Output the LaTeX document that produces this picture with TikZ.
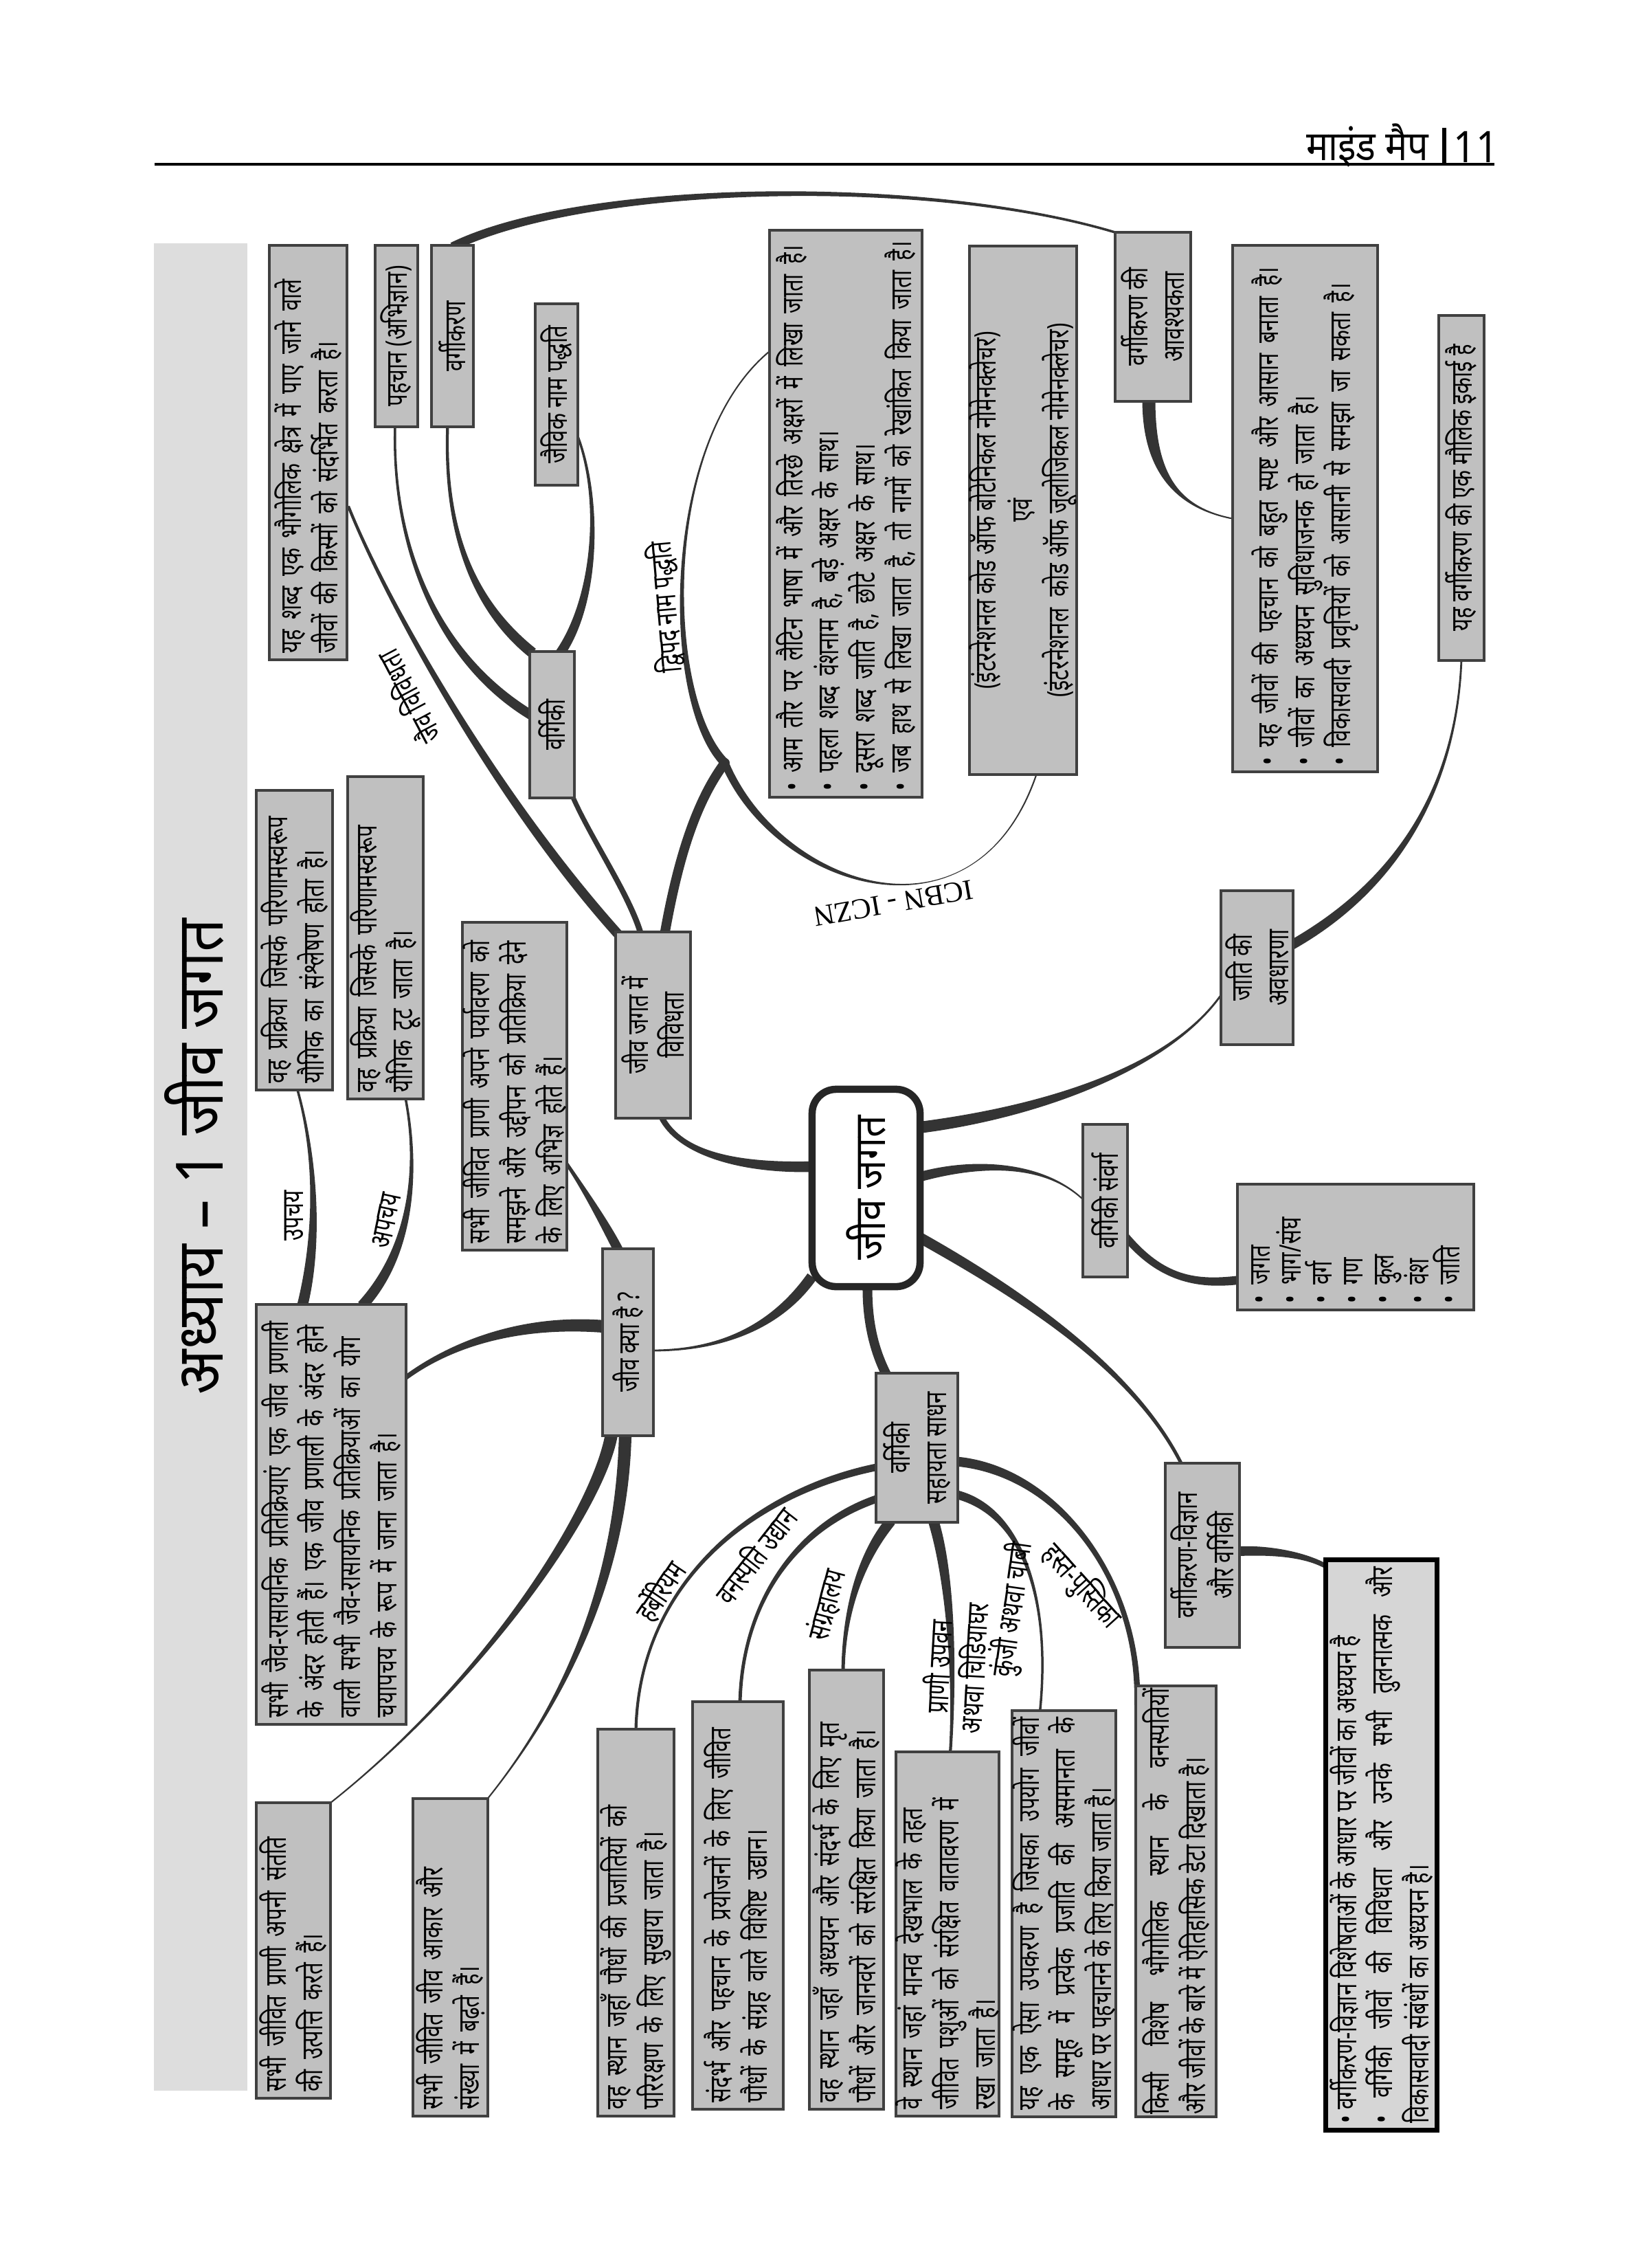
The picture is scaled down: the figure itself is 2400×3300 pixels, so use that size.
\documentclass[tikz,border=0pt]{standalone}
\usepackage{fontspec}
\setmainfont{Noto Sans}[Script=Devanagari, FakeStretch=0.72]
\newfontfamily\headfont{Noto Sans}[Script=Devanagari, FakeStretch=0.9]
\newfontfamily\latinserif{Liberation Serif}
\usetikzlibrary{calc, backgrounds}
\definecolor{boxGray}{RGB}{192,192,192}
\definecolor{edgeGray}{RGB}{64,64,64}
\definecolor{limbGray}{RGB}{52,52,52}
\definecolor{bandGray}{RGB}{221,221,221}
\definecolor{noteGray}{RGB}{214,214,214}

% tapered branch: start, control 1, control 2, end, half width at start, half width at end
\newcommand{\taper}[6]{%
  \coordinate (t0) at (#1); \coordinate (t1) at (#2);
  \coordinate (t2) at (#3); \coordinate (t3) at (#4);
  \fill[limbGray] ($(t0)!#5!90:(t1)$) .. controls ($(t1)!#5!-90:(t0)$) and ($(t2)!#6!90:(t3)$) .. ($(t3)!#6!-90:(t2)$)
    -- ($(t3)!#6!90:(t2)$) .. controls ($(t2)!#6!-90:(t3)$) and ($(t1)!#5!90:(t0)$) .. ($(t0)!#5!-90:(t1)$) -- cycle;}

\begin{document}
\begin{tikzpicture}[x=0.01cm, y=-0.01cm,
    box/.style={rotate=90, draw=edgeGray, line width=1.1pt, fill=boxGray, inner xsep=0.1cm, inner ysep=0pt, font=\fontsize{12.3}{15}\selectfont},
    leaf/.style={box, align=left},
    fillbox/.style={box, align=justify},
    hub/.style={box, align=center},
    tag/.style={inner sep=0pt, font=\bfseries\fontsize{12.5}{14.5}\selectfont}]
    \useasboundingbox (0,0) rectangle (2400,3300);

    % Running head
    \node[anchor=east, inner sep=0pt, font=\headfont\fontsize{17}{20}\selectfont] (runhead) at (2080,212) {माइंड मैप};
    \node[inner sep=0pt, font=\headfont\bfseries\fontsize{18}{20}\selectfont] (pageno) at (2148,214) {11};
    \draw[line width=1.6pt] (2102,186) -- (2102,239);
    \draw[line width=1.1pt] (225,239) -- (2175,239);

    % Chapter strip
    \node[rotate=90, inner sep=0pt, font=\headfont\bfseries\fontsize{27}{30}\selectfont] (chapter) at (283,1683) {अध्याय – 1 जीव जगत};

    % Centre
    \node[rotate=90, draw=black!85, line width=3pt, fill=white, rounded corners=0.35cm, minimum width=2.87cm, minimum height=1.57cm, font=\headfont\fontsize{18}{20}\selectfont] (centre) at (1260.5,1728.5) {जीव जगत};

    % Diversity side
    \node[hub, minimum width=2.71cm, minimum height=1.09cm] (jaivvividh) at (950.5,1491.5) {जीव जगत में\\विविधता};
    \node[leaf, text width=5.83cm, minimum height=1.13cm] (biodef) at (448.5,658.5) {यह शब्द एक भौगोलिक क्षेत्र में पाए जाने वाले\\जीवों की किस्मों को संदर्भित करता है।};
    \node[hub, minimum width=2.64cm, minimum height=0.62cm] (pehchan) at (577,489) {पहचान (अभिज्ञान)};
    \node[hub, minimum width=2.64cm, minimum height=0.61cm] (vargikaran) at (658.5,489) {वर्गीकरण};
    \node[hub, minimum width=2.64cm, minimum height=0.62cm] (naampaddhati) at (810,574) {जैविक नाम पद्धति};
    \node[hub, minimum width=2.13cm, minimum height=0.65cm] (vargiki) at (803.5,1054.5) {वर्गिकी};
    \node[leaf, text width=8.05cm, minimum height=2.22cm] (binomial) at (1231,747.5) {• आम तौर पर लैटिन भाषा में और तिरछे अक्षरों में लिखा जाता है।\\• पहला शब्द वंशनाम है, बड़े अक्षर के साथ।\\• दूसरा शब्द जाति है, छोटे अक्षर के साथ।\\• जब हाथ से लिखा जाता है, तो नामों को रेखांकित किया जाता है।};
    \node[hub, minimum width=7.69cm, minimum height=1.54cm] (codes) at (1489,742.5) {(इंटरनेशनल कोड ऑफ बोटेनिकल नोमेनक्लेचर)\\एवं\\(इंटरनेशनल\ \ कोड ऑफ जूलोजिकल नोमेनक्लेचर)};
    \node[hub, minimum width=2.46cm, minimum height=1.10cm] (needcls) at (1678,461) {वर्गीकरण की\\आवश्यकता};
    \node[leaf, text width=7.46cm, minimum height=2.11cm] (needlist) at (1899.5,740) {• यह जीवों की पहचान को बहुत स्पष्ट और आसान बनाता है।\\• जीवों का अध्ययन सुविधाजनक हो जाता है।\\• विकासवादी प्रवृत्तियों को आसानी से समझा जा सकता है।};
    \node[hub, minimum width=5.02cm, minimum height=0.66cm] (basicunit) at (2127,710) {यह वर्गीकरण की एक मौलिक इकाई है};
    \node[hub, minimum width=2.24cm, minimum height=1.05cm] (speciesidea) at (1829.5,1408) {जाति की\\अवधारणा};
    \node[hub, minimum width=2.22cm, minimum height=0.65cm] (category) at (1608.5,1747) {वर्गिकी संवर्ग};
    \node[leaf, text width=1.63cm, minimum height=3.44cm, font=\fontsize{12.3}{12.8}\selectfont] (ranks) at (1973,1814.5) {•~जगत\\•~भाग/संघ\\•~वर्ग\\•~गण\\•~कुल\\•~वंश\\•~जाति};

    % What is living
    \node[leaf, text width=4.16cm, minimum height=1.11cm] (upchay) at (428.5,1368) {वह प्रक्रिया जिसके परिणामस्वरूप\\यौगिक का संश्लेषण होता है।};
    \node[leaf, text width=4.49cm, minimum height=1.10cm] (apchay) at (561,1364.5) {वह प्रक्रिया जिसके परिणामस्वरूप\\यौगिक टूट जाता है।};
    \node[leaf, text width=4.57cm, minimum height=1.52cm] (sense) at (749,1580.5) {सभी जीवित प्राणी अपने पर्यावरण को\\समझने और उद्दीपन को प्रतिक्रिया देने\\के लिए अभिज्ञ होते हैं।};
    \node[hub, minimum width=2.72cm, minimum height=0.74cm] (whatlife) at (914,1953) {जीव क्या है ?};
    \node[leaf, text width=5.91cm, minimum height=2.18cm] (metab) at (482,2203.5) {सभी जैव-रासायनिक प्रतिक्रियाएं एक जीव प्रणाली\\के अंदर होती हैं। एक जीव प्रणाली के अंदर होने\\वाली सभी जैव-रासायनिक प्रतिक्रियाओं का योग\\चयापचय के रूप में जाना जाता है।};
    \node[leaf, text width=4.10cm, minimum height=1.08cm] (repro) at (427,2838) {सभी जीवित प्राणी अपनी संतति\\की उत्पत्ति करते हैं।};
    \node[leaf, text width=4.42cm, minimum height=1.09cm] (growth) at (655.5,2848) {सभी जीवित जीव आकार और\\संख्या में बढ़ते हैं।};

    % Taxonomical aids
    \node[hub, minimum width=2.17cm, minimum height=1.19cm] (aids) at (1334.5,2106.5) {वर्गिकी\\सहायता साधन};
    \node[leaf, text width=5.43cm, minimum height=1.11cm] (herb) at (925.5,2797.5) {वह स्थान जहाँ पौधों की प्रजातियों को\\परिरक्षण के लिए सुखाया जाता है।};
    \node[leaf, text width=5.73cm, minimum height=1.32cm] (garden) at (1074,2772.5) {संदर्भ और पहचान के प्रयोजनों के लिए जीवित\\पौधों के संग्रह वाले विशिष्ट उद्यान।};
    \node[leaf, text width=6.19cm, minimum height=1.08cm] (museum) at (1232,2749.5) {वह स्थान जहाँ अध्ययन और संदर्भ के लिए मृत\\पौधों और जानवरों को संरक्षित किया जाता है।};
    \node[leaf, text width=5.10cm, minimum height=1.38cm] (zoo) at (1379,2814) {वे स्थान जहां मानव देखभाल के तहत\\जीवित पशुओं को संरक्षित वातावरण में\\रखा जाता है।};
    \node[fillbox, text width=5.71cm, minimum height=1.47cm] (keybox) at (1548.5,2784.5) {यह एक ऐसा उपकरण है जिसका उपयोग जीवों\linebreak के समूह में प्रत्येक प्रजाति की असमानता के\linebreak आधार पर पहचानने के लिए किया जाता है।};
    \node[fillbox, inner xsep=0.035cm, text width=6.2cm, minimum height=1.17cm] (flora) at (1711.5,2766.5) {किसी विशेष भौगोलिक स्थान के वनस्पतियों\linebreak और जीवों के बारे में ऐतिहासिक डेटा दिखाता\ है।};

    % Systematics
    \node[hub, minimum width=2.68cm, minimum height=1.08cm] (systematics) at (1750,2263) {वर्गीकरण-विज्ञान\\और वर्गिकी};
    \node[fillbox, fill=noteGray, draw=black, line width=2pt, text width=8.09cm, minimum height=1.61cm] (sysnote) at (2010.5,2684.5) {• वर्गीकरण-विज्ञान विशेषताओं के आधार पर जीवों का अध्ययन है\\• वर्गिकी जीवों की विविधता और उनके सभी तुलनात्मक और\linebreak विकासवादी संबंधों का अध्ययन है।};

    % Branch labels
    \node[tag, rotate=118] (tagbio) at (593,1015) {जैव विविधता};
    \node[tag, rotate=95] (tagdvipad) at (968,883) {द्विपद नाम पद्धति};
    \node[rotate=190, inner sep=0pt, font=\latinserif\fontsize{12}{14}\selectfont] (tagcode) at (1300,1314) {ICBN - ICZN};
    \node[tag, rotate=90] (tagupchay) at (428,1769) {उपचय};
    \node[tag, rotate=78] (tagapchay) at (562,1776) {अपचय};
    \node[tag, rotate=56] (tagherb) at (961,2315) {हर्बेरियम};
    \node[tag, rotate=52] (taggarden) at (1098,2262) {वनस्पति उद्यान};
    \node[tag, rotate=75] (tagmuseum) at (1203,2335) {संग्रहालय};
    \node[tag, rotate=87, align=center] (tagzoo) at (1393,2426) {प्राणी उपवन\\अथवा चिड़ियाघर};
    \node[tag, rotate=82] (tagkey) at (1474,2342) {कुंजी अथवा चाबी};
    \node[tag, rotate=-48] (tagflora) at (1574,2308) {हस्त-पुस्तिका};

    \begin{scope}[on background layer]
        \fill[bandGray] (224,354) rectangle (360,3042);
        \coordinate (dvipadjn) at (1055,1110);
        % diversity branches
        \taper{$(biodef.south)+(0,78)$}{560,870}{720,1160}{$(jaivvividh.north east)+(8,8)$}{0.6pt}{2.0pt}
        \taper{$(vargiki.south west)+(-5,-5)$}{860,1220}{915,1300}{$(jaivvividh.east)+(-18,4)$}{1.0pt}{1.2pt}
        \taper{$(jaivvividh.east)+(17,4)$}{985,1260}{1010,1170}{dvipadjn}{2.0pt}{2.0pt}
        \taper{dvipadjn}{965,1020}{960,640}{$(binomial.north)+(4,-238)$}{1.8pt}{0.3pt}
        \taper{dvipadjn}{1130,1290}{1420,1390}{$(codes.west)+(20,-4)$}{1.6pt}{0.3pt}
        \fill[limbGray] (dvipadjn) circle (2pt);
        \taper{$(pehchan.west)+(-2,-4)$}{570,800}{640,960}{$(vargiki.north)+(4,-14)$}{0.5pt}{2.0pt}
        \taper{$(vargikaran.west)+(-7,-4)$}{645,790}{700,890}{$(vargiki.north east)+(6,4)$}{0.6pt}{2.2pt}
        \taper{$(naampaddhati.south)+(-4,56)$}{875,720}{870,870}{$(vargiki.east)+(12,4)$}{0.5pt}{2.0pt}
        \taper{$(vargikaran.east)+(0,4)$}{850,265}{1350,255}{$(needcls.north east)+(5,3)$}{1.8pt}{0.5pt}
        \taper{$(needcls.west)+(-6,-4)$}{1672,690}{1715,740}{$(needlist.north)+(4,15)$}{2.7pt}{0.3pt}
        \taper{$(basicunit.west)+(0,-4)$}{2120,1150}{2030,1290}{$(speciesidea.south)+(-4,-33)$}{0.4pt}{2.0pt}
        % centre branches
        \taper{$(jaivvividh.west)+(12,-4)$}{990,1680}{1080,1700}{$(centre.north)+(6,-31)$}{1.2pt}{2.2pt}
        \taper{$(centre.south)+(-6,-88)$}{1500,1620}{1700,1560}{$(speciesidea.north)+(4,37)$}{2.4pt}{0.4pt}
        \taper{$(centre.south)+(-6,-16)$}{1420,1690}{1520,1690}{$(category.north)+(4,0)$}{2.0pt}{0.3pt}
        \taper{$(category.south)+(-4,53)$}{1690,1860}{1740,1870}{$(ranks.north)+(4,48)$}{1.6pt}{1.8pt}
        \taper{$(centre.north west)+(5,-20)$}{1130,1930}{1050,1965}{$(whatlife.south)+(-4,12)$}{2.2pt}{0.4pt}
        \taper{$(centre.west)+(2,-6)$}{1262,1930}{1275,1970}{$(aids.north east)+(17,4)$}{2.0pt}{2.0pt}
        \taper{$(centre.south)+(-6,72)$}{1480,1880}{1650,1990}{$(systematics.north east)+(26,4)$}{2.2pt}{0.7pt}
        \taper{$(systematics.south)+(-4,-6)$}{1850,2255}{1900,2262}{$(sysnote.north east)+(4,13)$}{2.0pt}{1.0pt}
        % what is living
        \taper{$(sense.south)+(-4,110)$}{850,1730}{880,1780}{$(whatlife.east)+(-14,4)$}{0.7pt}{2.0pt}
        \taper{$(metab.south)+(-4,-198)$}{650,1960}{750,1920}{$(whatlife.north)+(4,-23)$}{1.0pt}{2.6pt}
        \taper{$(whatlife.west)+(-24,-4)$}{870,2200}{700,2450}{$(repro.south east)+(-3,3)$}{2.6pt}{0.3pt}
        \taper{$(whatlife.west)+(-4,-4)$}{905,2300}{820,2480}{$(growth.south east)+(-3,3)$}{2.6pt}{0.3pt}
        \taper{$(upchay.west)+(4,-4)$}{465,1700}{460,1820}{$(metab.east)+(-42,4)$}{0.5pt}{2.2pt}
        \taper{$(apchay.west)+(29,-4)$}{610,1700}{600,1820}{$(metab.east)+(45,4)$}{0.5pt}{2.2pt}
        % taxonomical aids
        \taper{$(aids.north)+(4,28)$}{1100,2170}{930,2300}{$(herb.east)+(0,4)$}{1.5pt}{0.6pt}
        \taper{$(aids.north)+(4,74)$}{1160,2220}{1080,2330}{$(garden.east)+(3,4)$}{1.6pt}{0.7pt}
        \taper{$(aids.west)+(-38,-4)$}{1250,2270}{1228,2350}{$(museum.east)+(-5,4)$}{2.2pt}{0.7pt}
        \taper{$(aids.west)+(24,-4)$}{1385,2300}{1390,2450}{$(zoo.east)+(4,4)$}{2.2pt}{0.6pt}
        \taper{$(aids.south)+(-4,68)$}{1490,2200}{1530,2330}{$(keybox.east)+(-35,4)$}{1.8pt}{0.5pt}
        \taper{$(aids.south)+(-4,20)$}{1540,2140}{1660,2300}{$(flora.north east)+(4,30)$}{2.0pt}{1.2pt}
    \end{scope}
\end{tikzpicture}
\end{document}
